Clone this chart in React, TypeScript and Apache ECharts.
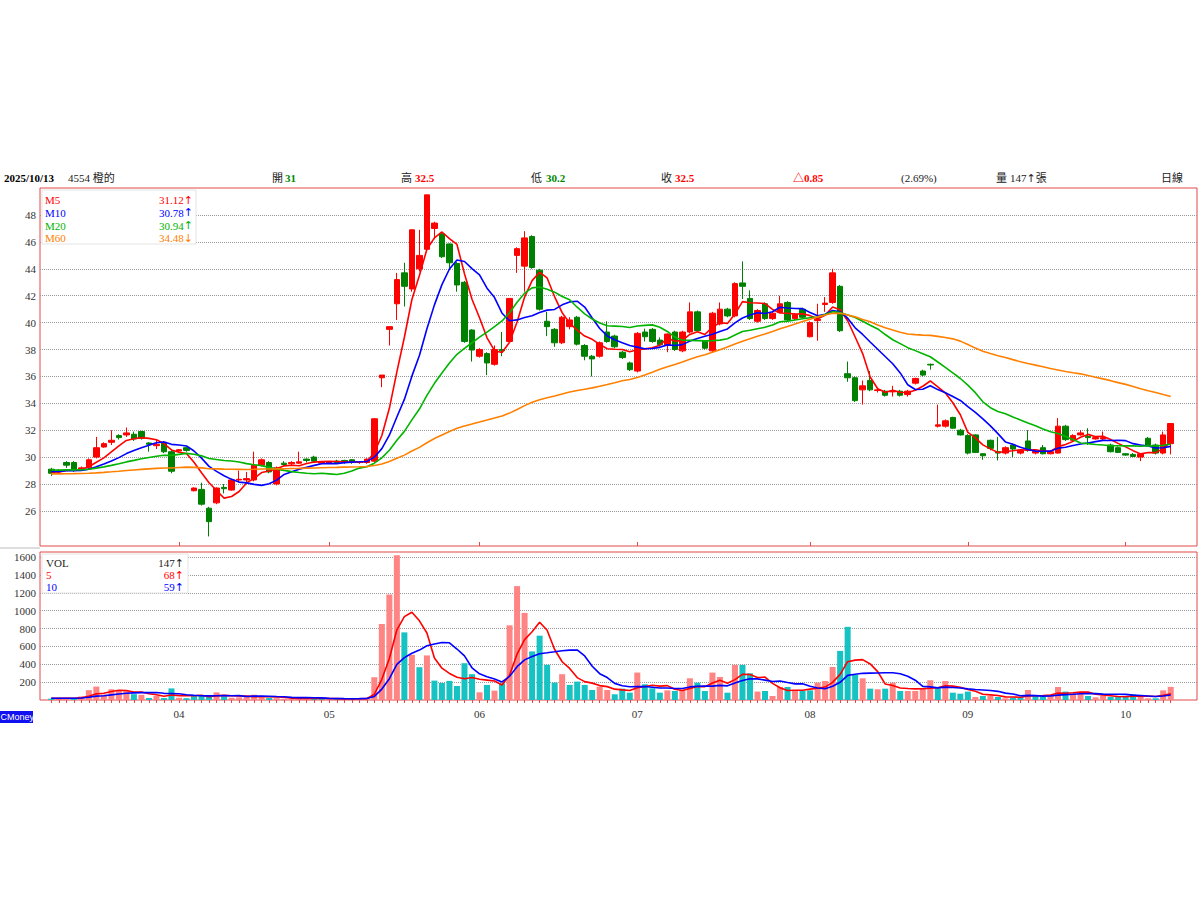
import React, { useEffect, useRef } from 'react';
import * as echarts from 'echarts';

// ---------- DATA ----------
const dates: string[] = [
  '03/07','03/10','03/11','03/12','03/13','03/14','03/17','03/18','03/19','03/20','03/21','03/24','03/25','03/26','03/27','03/28','03/31',
  '04/01','04/02','04/07','04/08','04/09','04/10','04/11','04/14','04/15','04/16','04/17','04/18','04/21','04/22','04/23','04/24','04/25','04/28','04/29','04/30',
  '05/02','05/05','05/06','05/07','05/08','05/09','05/12','05/13','05/14','05/15','05/16','05/19','05/20','05/21','05/22','05/23','05/26','05/27','05/28','05/29',
  '06/02','06/03','06/04','06/05','06/06','06/09','06/10','06/11','06/12','06/13','06/16','06/17','06/18','06/19','06/20','06/23','06/24','06/25','06/26','06/27','06/30',
  '07/01','07/02','07/03','07/04','07/07','07/08','07/09','07/10','07/11','07/14','07/15','07/16','07/17','07/18','07/21','07/22','07/23','07/24','07/25','07/28','07/29','07/30','07/31',
  '08/01','08/04','08/05','08/06','08/07','08/08','08/11','08/12','08/13','08/14','08/15','08/18','08/19','08/20','08/21','08/22','08/25','08/26','08/27','08/28','08/29',
  '09/01','09/02','09/03','09/04','09/05','09/08','09/09','09/10','09/11','09/12','09/15','09/16','09/17','09/18','09/19','09/22','09/23','09/24','09/25','09/26','09/30',
  '10/01','10/02','10/03','10/07','10/08','10/09','10/13',
];

// [open, close, low, high]
const candles: number[][] = [
  [29.1, 28.8, 28.6, 29.2], [28.9, 29.0, 28.8, 29.1], [29.6, 29.4, 29.2, 29.7], [29.6, 29.0, 28.9, 29.7],
  [29.05, 29.2, 29.0, 29.3], [29.2, 29.8, 29.1, 29.9], [30.0, 30.7, 29.9, 31.5], [30.75, 31.0, 30.7, 31.1],
  [31.1, 31.25, 30.9, 32.0], [31.6, 31.45, 31.3, 31.7], [31.65, 31.8, 31.5, 32.2], [31.7, 31.35, 31.2, 31.9],
  [31.9, 31.4, 31.3, 31.95], [31.05, 30.95, 30.4, 31.1], [30.85, 30.95, 30.6, 31.3], [31.1, 30.4, 30.3, 31.2],
  [30.4, 28.95, 28.8, 30.5], [30.45, 30.55, 30.4, 30.6], [30.7, 30.5, 30.4, 30.8], [27.5, 27.7, 27.45, 27.75],
  [27.6, 26.5, 26.4, 28.1], [26.2, 25.2, 24.1, 26.3], [26.6, 27.7, 26.5, 27.75], [27.75, 27.65, 27.3, 28.0],
  [27.55, 28.3, 27.5, 28.4], [28.3, 28.35, 28.1, 29.0], [28.3, 28.4, 28.0, 28.9], [28.3, 29.4, 28.2, 30.4],
  [29.4, 29.8, 29.3, 29.9], [29.6, 28.9, 28.8, 29.7], [28.0, 29.2, 27.9, 29.3], [29.55, 29.45, 29.3, 29.7],
  [29.5, 29.6, 29.4, 29.7], [29.55, 29.65, 29.5, 30.4], [29.85, 29.75, 29.6, 29.9], [30.0, 29.7, 29.6, 30.1],
  [29.55, 29.65, 29.5, 29.7], [29.55, 29.65, 29.5, 29.7], [29.7, 29.6, 29.5, 29.8], [29.75, 29.65, 29.5, 29.8],
  [29.8, 29.6, 29.5, 29.85], [29.6, 29.65, 29.5, 29.7], [29.6, 29.85, 29.5, 29.9], [29.7, 32.85, 29.6, 32.9],
  [35.9, 36.1, 35.2, 36.1], [39.5, 39.7, 38.3, 39.7], [41.4, 43.2, 40.2, 43.7], [43.7, 42.7, 41.2, 44.45],
  [42.5, 46.9, 42.3, 46.95], [44.0, 45.0, 43.8, 46.9], [45.45, 49.5, 45.4, 49.5], [47.0, 47.4, 46.2, 47.5],
  [46.6, 44.9, 44.8, 46.7], [45.85, 44.45, 44.0, 45.9], [44.4, 42.8, 42.3, 44.5], [43.0, 38.6, 38.5, 43.1],
  [39.45, 37.96, 37.1, 39.5], [37.5, 38.0, 37.4, 38.1], [37.7, 37.0, 36.1, 37.8], [36.9, 38.0, 36.8, 38.3],
  [38.0, 37.9, 37.5, 39.3], [38.6, 41.8, 38.5, 41.8], [45.0, 45.5, 43.7, 45.6], [44.2, 46.3, 42.3, 46.8],
  [46.4, 44.1, 44.0, 46.5], [43.9, 41.0, 40.9, 44.0], [40.1, 39.7, 39.0, 40.8], [39.5, 38.5, 38.2, 39.6],
  [38.5, 40.4, 38.4, 40.5], [39.7, 40.2, 39.5, 40.4], [40.4, 38.4, 38.3, 40.5], [38.3, 37.5, 37.2, 38.4],
  [37.5, 37.3, 36.0, 37.6], [37.5, 38.5, 37.4, 38.6], [39.3, 38.6, 38.5, 40.1], [39.0, 38.2, 38.1, 39.1],
  [37.8, 37.4, 37.3, 37.9], [37.0, 36.5, 36.4, 37.1], [36.4, 39.2, 36.3, 39.3], [39.3, 38.95, 38.6, 39.55],
  [39.5, 38.6, 38.5, 39.6], [38.7, 38.35, 38.2, 38.9], [38.3, 39.15, 37.8, 39.2], [39.3, 38.0, 37.9, 39.4],
  [37.9, 39.3, 37.8, 39.4], [39.3, 40.8, 39.2, 41.5], [40.8, 39.4, 39.3, 40.9], [38.6, 38.1, 38.0, 38.7],
  [37.9, 40.7, 37.8, 40.8], [39.9, 41.0, 39.8, 41.5], [41.0, 40.5, 40.4, 41.1], [40.5, 42.9, 40.4, 43.0],
  [42.95, 42.7, 41.75, 44.55], [41.8, 40.3, 40.2, 42.4], [40.1, 40.9, 40.0, 41.0], [41.4, 40.3, 40.2, 41.5],
  [40.3, 40.7, 40.2, 40.8], [40.75, 41.4, 40.7, 42.0], [41.5, 40.2, 40.1, 41.6], [40.3, 40.6, 40.2, 40.7],
  [41.0, 40.4, 40.3, 41.1], [38.95, 40.0, 38.9, 40.1], [40.15, 40.25, 38.65, 41.4], [41.35, 41.45, 40.8, 41.9],
  [41.5, 43.7, 41.4, 44.0], [42.7, 39.4, 39.3, 42.8], [36.2, 35.9, 35.6, 37.1], [35.9, 34.2, 34.1, 36.0],
  [35.0, 35.3, 33.9, 35.7], [35.7, 35.0, 34.9, 36.4], [34.95, 35.0, 34.8, 35.1], [34.9, 34.6, 34.5, 35.0],
  [34.85, 34.9, 34.5, 35.3], [34.9, 34.6, 34.5, 35.0], [34.65, 34.9, 34.5, 35.0], [35.5, 35.85, 35.4, 35.9],
  [36.4, 36.1, 36.0, 36.5], [36.9, 36.85, 36.5, 36.95], [32.3, 32.4, 32.2, 33.9], [32.3, 32.7, 32.2, 32.8],
  [32.95, 32.15, 32.1, 33.0], [32.0, 31.65, 31.6, 32.1], [31.6, 30.3, 30.2, 31.7], [31.65, 30.35, 30.3, 31.7],
  [30.25, 30.1, 29.8, 30.3], [31.25, 30.65, 30.5, 31.3], [30.4, 30.3, 29.75, 31.5], [30.3, 30.7, 30.2, 30.8],
  [30.9, 30.6, 30.0, 31.0], [30.3, 30.5, 30.2, 30.6], [31.2, 30.5, 30.4, 32.0], [30.3, 30.45, 30.2, 30.5],
  [30.7, 30.25, 30.2, 30.9], [30.25, 30.4, 30.2, 30.5], [30.3, 32.3, 30.25, 32.9], [32.3, 31.3, 31.2, 32.4],
  [31.25, 31.6, 31.2, 31.7], [31.65, 31.8, 31.6, 32.0], [31.55, 31.45, 30.9, 32.15], [31.35, 31.45, 31.3, 31.5],
  [31.35, 31.45, 31.2, 31.9], [30.9, 30.4, 30.35, 31.0], [30.7, 30.35, 30.3, 30.8], [30.25, 30.15, 30.1, 30.3],
  [30.2, 30.05, 30.0, 30.3], [30.0, 30.25, 29.7, 30.3], [31.4, 30.9, 30.8, 31.5], [30.9, 30.3, 30.2, 31.0],
  [30.3, 31.65, 30.2, 31.9], [31.0, 32.5, 30.2, 32.5],
];

const volumes: number[] = [
  15, 18, 25, 20, 40, 110, 150, 60, 120, 105, 100, 65, 58, 22, 45, 22, 130, 25, 20, 45,
  50, 40, 85, 40, 25, 30, 35, 60, 30, 25, 20, 15, 12, 15, 30, 15, 12, 10, 12, 15,
  12, 18, 22, 255, 851, 1181, 1620, 757, 506, 367, 499, 217, 191, 214, 157, 412, 289, 86, 169, 105,
  187, 836, 1275, 975, 544, 720, 394, 195, 289, 169, 206, 169, 112, 150, 112, 64, 127, 82, 307, 176,
  131, 82, 108, 101, 108, 243, 194, 101, 307, 258, 82, 393, 393, 299, 94, 101, 45, 146, 146, 108,
  101, 108, 194, 213, 370, 550, 819, 280, 243, 127, 120, 127, 194, 101, 101, 101, 131, 221, 131, 213,
  82, 71, 94, 34, 45, 45, 34, 19, 26, 34, 112, 45, 37, 52, 146, 94, 75, 82, 45, 30,
  50, 35, 35, 35, 64, 56, 19, 19, 108, 147,
];

const priceTicks = [26, 28, 30, 32, 34, 36, 38, 40, 42, 44, 46, 48];
const volumeTicks = [200, 400, 600, 800, 1000, 1200, 1400, 1600];

const maNames = ['M5', 'M10', 'M20', 'M60'];
const maPeriods = [5, 10, 20, 60];
const maSeeds = [28.9, 28.95, 29.05, 28.75]; // MA level at the first visible day
const maLegendValues = ['31.12↑', '30.78↑', '30.94↑', '34.48↓'];
const volMaNames = ['5', '10'];
const volMaPeriods = [5, 10];
const volMaSeeds = [20, 20];
const volLegendValues = ['147↑', '68↑', '59↑'];

const headerDate = '2025/10/13';
const headerStock = '4554 橙的';
const headerOpen = '31';
const headerHigh = '32.5';
const headerLow = '30.2';
const headerClose = '32.5';
const headerChange = '△0.85';
const headerPct = '(2.69%)';
const headerVol = '147↑張';

// ---------- STYLE ----------
const RED = '#ff0000';
const GREEN = '#008000';
const BLUE = '#0000ff';
const MA_GREEN = '#00b400';
const ORANGE = '#ff8000';
const maColors = [RED, BLUE, MA_GREEN, ORANGE];
const volMaColors = [RED, BLUE];
const FONT = '"Liberation Serif", "Noto Sans CJK TC", serif';
const BORDER = '#e34848';

function movingAverage(values: number[], n: number, seed: number): number[] {
  return values.map((_, i) => {
    let s = 0;
    for (let k = i - n + 1; k <= i; k++) s += k >= 0 ? values[k] : seed;
    return Math.round((s / n) * 1000) / 1000;
  });
}

const LEAD = 1;
const TRAIL = 3;

export default function App() {
  const ref = useRef<HTMLDivElement>(null);

  useEffect(() => {
    document.body.style.margin = '0';
    if (!ref.current) return;
    const chart = echarts.init(ref.current, undefined, { renderer: 'svg' });

    const cats = ['pad0', ...dates, 'pad1', 'pad2', 'pad3'].slice(0, LEAD + dates.length + TRAIL);
    const padFront = (arr: any[]) => [...Array(LEAD).fill('-'), ...arr];
    const closes = candles.map((c) => c[1]);

    const monthStart = new Set<number>();
    dates.forEach((d, i) => {
      if (i > 0 && d.slice(0, 2) !== dates[i - 1].slice(0, 2)) monthStart.add(i + LEAD);
    });

    const candleData = [['-', '-', '-', '-'], ...candles];
    const volData = padFront(
      volumes.map((v, i) => {
        const up = i === 0 ? candles[i][1] >= candles[i][0] : closes[i] >= closes[i - 1];
        return { value: v, itemStyle: { color: up ? '#ff8484' : '#16c2c2' } };
      })
    );

    const maSeries = maPeriods.map((p, k) => ({
      type: 'line',
      name: maNames[k],
      xAxisIndex: 0,
      yAxisIndex: 0,
      data: padFront(movingAverage(closes, p, maSeeds[k])),
      symbol: 'none',
      lineStyle: { color: maColors[k], width: 1.6 },
      z: 4,
      silent: true,
    }));

    const volMaSeries = volMaPeriods.map((p, k) => ({
      type: 'line',
      name: 'V' + volMaNames[k],
      xAxisIndex: 1,
      yAxisIndex: 1,
      data: padFront(movingAverage(volumes, p, volMaSeeds[k])),
      symbol: 'none',
      lineStyle: { color: volMaColors[k], width: 1.6 },
      z: 4,
      silent: true,
    }));

    // text with arrows drawn in a font whose arrows are full height
    const txt = (text: string, x: number, y: number, fill: string, opts: any = {}) => {
      const size = opts.size || 11;
      const hasArrow = /[↑↓]/.test(text);
      const richText = hasArrow
        ? text.replace(/([↑↓])/g, '{ar|$1}').replace(/([^{}|]+)(?=\{ar\||$)/g, (m) => (m.startsWith('ar') ? m : m))
        : text;
      return {
        type: 'text',
        x,
        y,
        z: 100,
        style: {
          text: richText,
          fill,
          fontSize: size,
          fontWeight: opts.bold ? 'bold' : 'normal',
          fontFamily: opts.family || FONT,
          textAlign: opts.align || 'left',
          textVerticalAlign: 'middle',
          rich: hasArrow
            ? { ar: { fontFamily: '"DejaVu Sans", sans-serif', fontSize: size, fill, fontWeight: 'normal' } }
            : undefined,
        },
      };
    };

    const HY = 178;
    const graphic: any[] = [
      txt(headerDate, 4, HY, '#000', { bold: true }),
      txt(headerStock, 68, HY, '#222'),
      txt('開', 272, HY, '#222'),
      txt(headerOpen, 285, HY, '#008800', { bold: true }),
      txt('高', 401, HY, '#222'),
      txt(headerHigh, 415, HY, RED, { bold: true }),
      txt('低', 531, HY, '#222'),
      txt(headerLow, 546, HY, '#008800', { bold: true }),
      txt('收', 661, HY, '#222'),
      txt(headerClose, 675, HY, RED, { bold: true }),
      txt(headerChange, 793, HY, RED, { bold: true }),
      txt(headerPct, 901, HY, '#222'),
      txt('量', 996, HY, '#222'),
      txt(headerVol, 1010, HY, '#222'),
      txt('日線', 1161, HY, '#222'),
      // price legend box
      {
        type: 'rect',
        z: 90,
        shape: { x: 42, y: 190, width: 154, height: 54 },
        style: { fill: '#ffffff', stroke: '#e4e4e4', lineWidth: 1 },
      },
      ...maNames.map((n, k) => txt(n, 45, 200 + k * 12.8, maColors[k])),
      ...maLegendValues.map((v, k) => txt(v, 193, 200 + k * 12.8, maColors[k], { align: 'right' })),
      // volume legend box
      {
        type: 'rect',
        z: 90,
        shape: { x: 42, y: 554, width: 146, height: 39 },
        style: { fill: '#ffffff', stroke: '#e4e4e4', lineWidth: 1 },
      },
      txt('VOL', 46, 563, '#222'),
      txt(volLegendValues[0], 184, 563, '#222', { align: 'right' }),
      ...volMaNames.map((n, k) => txt(n, 46, 575 + k * 12, volMaColors[k])),
      ...volMaNames.map((n, k) => txt(volLegendValues[k + 1], 184, 575 + k * 12, volMaColors[k], { align: 'right' })),
      // separator & brand
      { type: 'rect', z: 1, shape: { x: 0, y: 547, width: 40, height: 2 }, style: { fill: '#dddddd' } },
      { type: 'rect', z: 90, shape: { x: 0, y: 711, width: 33, height: 12 }, style: { fill: '#1010f0' } },
      txt('CMoney', 0.5, 717, '#ffffff', { size: 9, family: '"Liberation Sans Narrow", "Liberation Sans", Arial, sans-serif' }),
    ];

    const axisLabelStyle = {
      color: '#333',
      fontSize: 11,
      fontFamily: FONT,
      margin: 4,
      formatter: (v: number) => String(v),
    };
    const dotted = { show: true, lineStyle: { type: 'dotted', color: '#9a9a9a', width: 1 } };

    chart.setOption({
      animation: false,
      backgroundColor: '#ffffff',
      graphic,
      grid: [
        { left: 40, top: 188, width: 1157, height: 358, show: true, borderColor: BORDER, borderWidth: 1, backgroundColor: 'transparent' },
        { left: 40, top: 552, width: 1157, height: 148, show: true, borderColor: BORDER, borderWidth: 1, backgroundColor: 'transparent' },
      ],
      xAxis: [
        {
          type: 'category',
          gridIndex: 0,
          data: cats,
          boundaryGap: true,
          axisLine: { show: false },
          axisTick: {
            show: true,
            inside: true,
            length: 4,
            alignWithLabel: true,
            interval: (i: number) => monthStart.has(i),
            lineStyle: { color: BORDER },
          },
          axisLabel: { show: false },
          splitLine: { show: false },
        },
        {
          type: 'category',
          gridIndex: 1,
          data: cats,
          boundaryGap: true,
          axisLine: { show: false },
          axisTick: {
            show: true,
            length: 3,
            alignWithLabel: true,
            interval: (i: number) => i >= LEAD && i < LEAD + dates.length,
            lineStyle: { color: BORDER },
          },
          axisLabel: {
            show: true,
            interval: (i: number) => monthStart.has(i),
            formatter: (v: string) => v.slice(0, 2),
            color: '#333',
            fontSize: 11,
            fontFamily: FONT,
            margin: 8,
          },
          splitLine: { show: false },
        },
      ],
      yAxis: [
        {
          type: 'value',
          gridIndex: 0,
          min: 23.39,
          max: 50.01,
          axisLine: { show: false },
          axisTick: { show: false, customValues: priceTicks },
          axisLabel: { ...axisLabelStyle, customValues: priceTicks },
          splitLine: dotted,
        },
        {
          type: 'value',
          gridIndex: 1,
          min: 0,
          max: 1657,
          axisLine: { show: false },
          axisTick: { show: false, customValues: volumeTicks },
          axisLabel: { ...axisLabelStyle, customValues: volumeTicks },
          splitLine: dotted,
        },
      ],
      series: [
        {
          type: 'candlestick',
          xAxisIndex: 0,
          yAxisIndex: 0,
          data: candleData,
          barWidth: 6,
          z: 3,
          silent: true,
          itemStyle: {
            color: RED,
            color0: GREEN,
            borderColor: RED,
            borderColor0: GREEN,
            borderWidth: 1,
          },
        },
        ...maSeries,
        {
          type: 'bar',
          xAxisIndex: 1,
          yAxisIndex: 1,
          data: volData,
          barWidth: 6,
          z: 3,
          silent: true,
        },
        ...volMaSeries,
      ],
    });

    return () => chart.dispose();
  }, []);

  return (
    <div
      ref={ref}
      style={{ position: 'absolute', left: 0, top: 0, width: 1200, height: 900, background: '#fff' }}
    />
  );
}
